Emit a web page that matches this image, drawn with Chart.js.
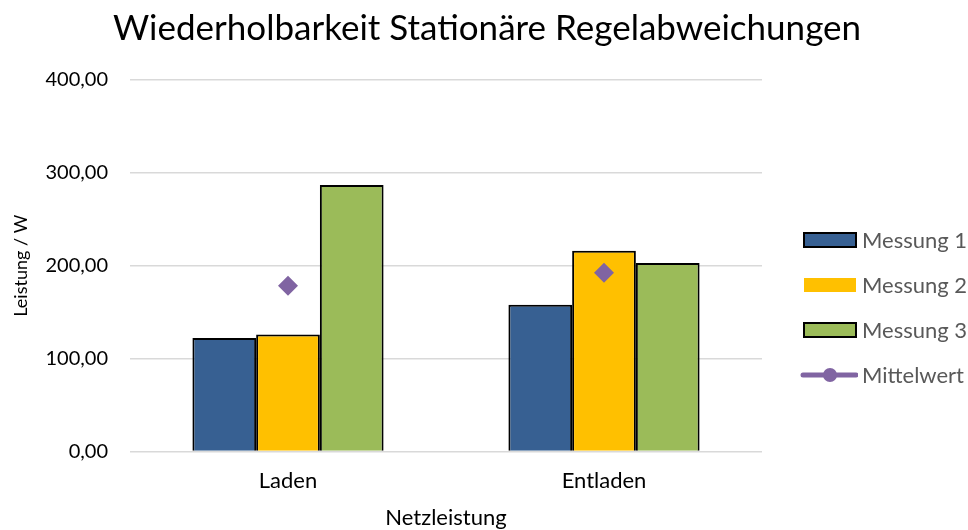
<!DOCTYPE html>
<html>
<head>
<meta charset="utf-8">
<script src="https://cdn.jsdelivr.net/npm/chart.js@4"></script>
<style>
  body { margin: 0; background: #fff; }
  #wrap { position: relative; width: 968px; height: 530px; }
  #legend { position: absolute; left: 800px; top: 217px; font-family: Lato, "Open Sans", sans-serif; font-size: 22px; color: #595959; }
  #legend .item { display: flex; align-items: center; height: 45px; }
  #legend canvas { display: block; margin-right: 4px; }
</style>
</head>
<body>
<div id="wrap">
  <canvas id="chart" width="968" height="530"></canvas>
  <div id="legend"></div>
</div>
<script>
// data
const categories = ['Laden', 'Entladen'];
const messung1 = [122, 158];
const messung2 = [126, 216];
const messung3 = [287, 203];
const mittelwert = [178.3, 192.3];
const yTicks = [0, 100, 200, 300, 400];

const FONT = 'Lato, "Open Sans", sans-serif';
const colors = ['#376092', '#FFC000', '#9BBB59', '#8064A2'];

// legend symbols drawn on small canvases
function boxSymbol(fill, withBorder) {
  const c = document.createElement('canvas');
  c.width = 58; c.height = 16;
  const g = c.getContext('2d');
  g.fillStyle = fill;
  g.fillRect(4, 1, 52, 14);
  if (withBorder) {
    g.strokeStyle = '#000';
    g.lineWidth = 2;
    g.strokeRect(4, 1, 52, 14);
  }
  return c;
}
function lineSymbol(color) {
  const c = document.createElement('canvas');
  c.width = 58; c.height = 16;
  const g = c.getContext('2d');
  g.strokeStyle = color;
  g.lineWidth = 5;
  g.lineCap = 'round';
  g.beginPath();
  g.moveTo(3, 8); g.lineTo(56, 8);
  g.stroke();
  g.fillStyle = color;
  g.beginPath();
  g.arc(30, 8, 7, 0, Math.PI * 2);
  g.fill();
  return c;
}

const ctx = document.getElementById('chart').getContext('2d');
const chart = new Chart(ctx, {
  data: {
    labels: categories,
    datasets: [
      { type: 'bar', label: 'Messung 1', data: messung1, backgroundColor: colors[0], borderColor: '#000', borderWidth: 2, order: 1 },
      { type: 'bar', label: 'Messung 2', data: messung2, backgroundColor: colors[1], borderColor: '#000', borderWidth: 2, order: 1 },
      { type: 'bar', label: 'Messung 3', data: messung3, backgroundColor: colors[2], borderColor: '#000', borderWidth: 2, order: 1 },
      { type: 'line', label: 'Mittelwert', data: mittelwert, showLine: false, pointStyle: 'rectRot',
        pointRadius: 10, pointHoverRadius: 10, backgroundColor: colors[3], borderColor: colors[3], borderWidth: 0, order: 0 }
    ]
  },
  options: {
    responsive: false,
    animation: false,
    layout: { padding: { left: 10, right: 4, top: 4, bottom: 0 } },
    datasets: { bar: { categoryPercentage: 0.605, barPercentage: 1.0 } },
    scales: {
      x: {
        grid: { display: false },
        border: { display: false },
        ticks: { color: '#000', font: { family: FONT, size: 22 }, padding: 8 },
        title: { display: true, text: 'Netzleistung', color: '#000', font: { family: FONT, size: 22, lineHeight: 1.1 }, padding: { top: 4, bottom: 0 } }
      },
      y: {
        min: 0,
        max: 400,
        afterBuildTicks: axis => { axis.ticks = yTicks.map(v => ({ value: v })); },
        afterFit: axis => { axis.width = 120; },
        grid: { color: '#d9d9d9', lineWidth: 1.5, drawTicks: false },
        border: { display: false },
        ticks: {
          color: '#000',
          font: { family: FONT, size: 20 },
          padding: 22,
          callback: v => v.toFixed(2).replace('.', ',')
        },
        title: { display: true, text: 'Leistung / W', color: '#000', font: { family: FONT, size: 18 }, padding: 0 }
      },
      // empty axis that keeps the space for the legend on the right
      legendSpace: {
        type: 'linear',
        position: 'right',
        afterFit: axis => { axis.width = 202; },
        grid: { display: false },
        border: { display: false },
        ticks: { display: false }
      }
    },
    plugins: {
      title: {
        display: true,
        text: 'Wiederholbarkeit Stationäre Regelabweichungen',
        color: '#000',
        font: { family: FONT, size: 35, weight: 'normal' },
        padding: { top: 4, bottom: 30 }
      },
      legend: { display: false },
      tooltip: { enabled: false }
    }
  }
});

// html legend built from the datasets
const legendEl = document.getElementById('legend');
chart.data.datasets.forEach((ds, i) => {
  const row = document.createElement('div');
  row.className = 'item';
  row.appendChild(i === 3 ? lineSymbol(colors[i]) : boxSymbol(colors[i], i !== 1));
  const span = document.createElement('span');
  span.textContent = ds.label;
  row.appendChild(span);
  legendEl.appendChild(row);
});
</script>
</body>
</html>
